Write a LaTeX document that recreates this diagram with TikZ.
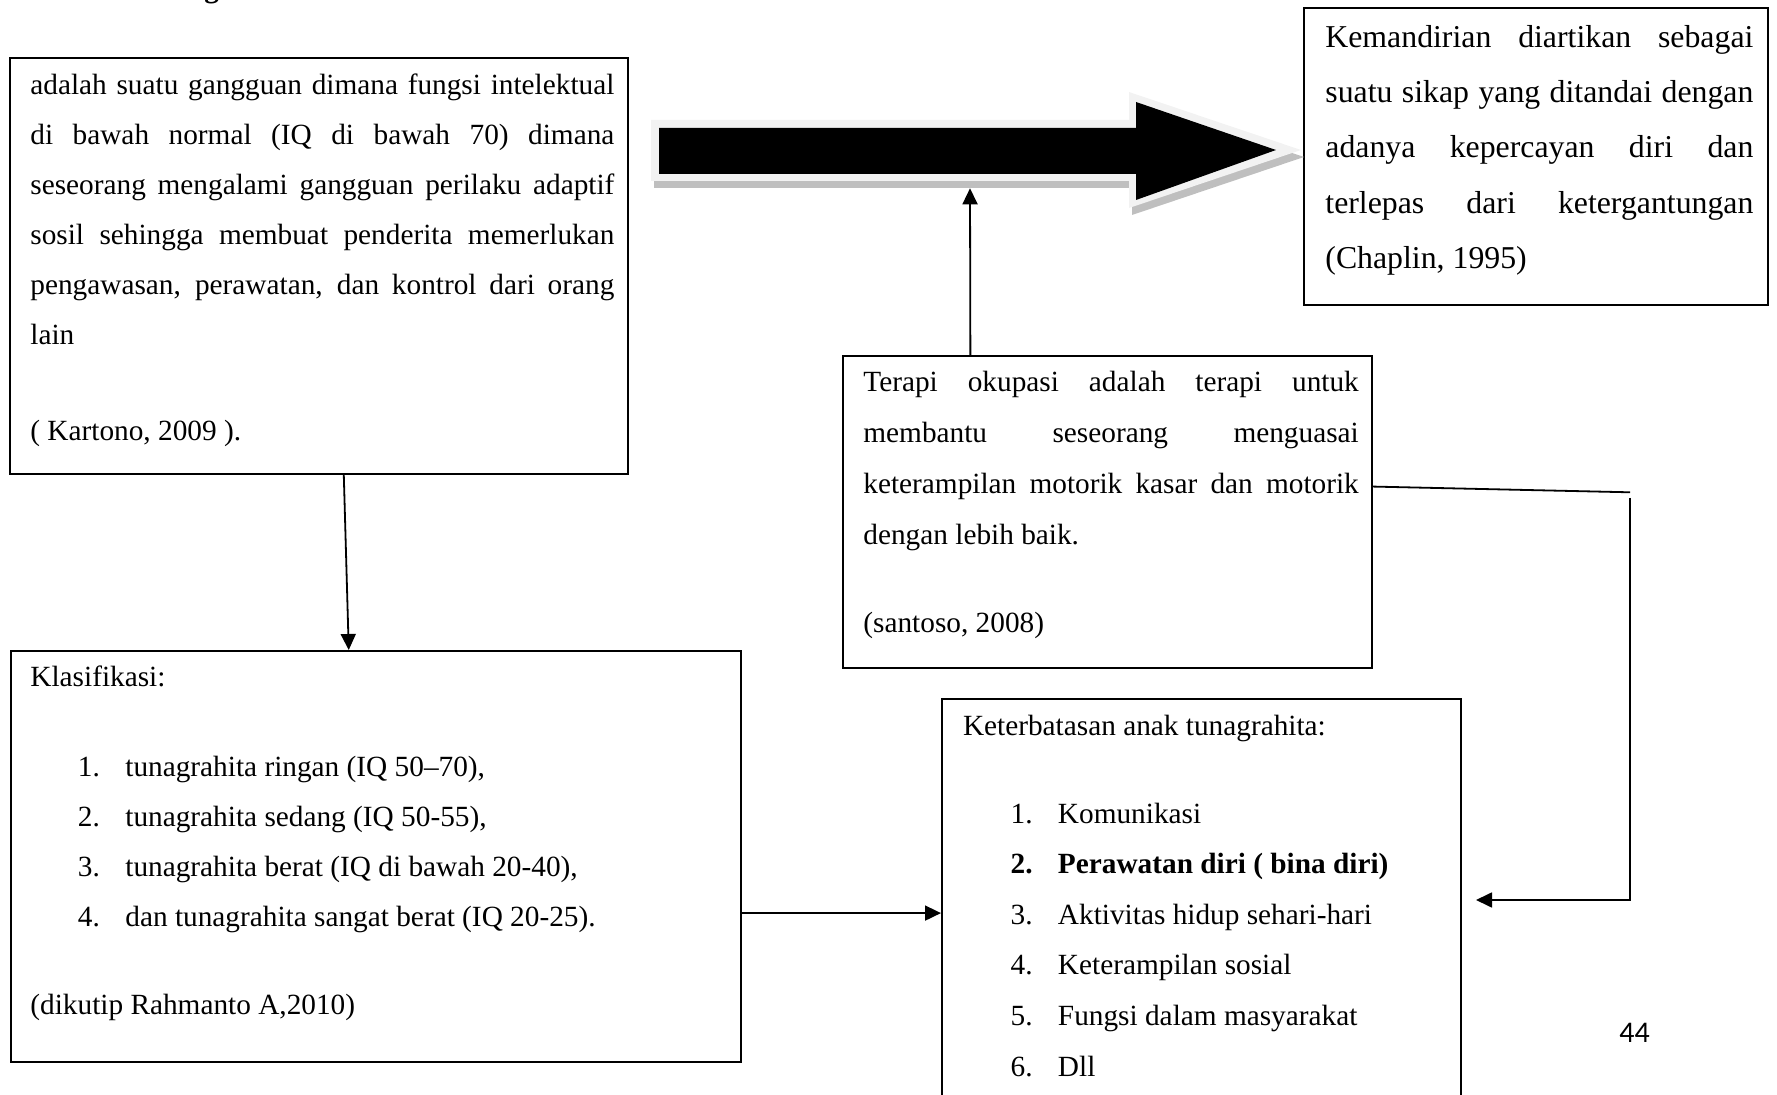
\documentclass[tikz,border=0pt]{standalone}
\usepackage{fontspec}
\setmainfont{Liberation Serif}
\newfontfamily\pagenofont{Carlito}
\usetikzlibrary{calc,arrows.meta}
\definecolor{rimgray}{HTML}{F2F2F2}
\definecolor{shadegray}{HTML}{BFBFBF}
\def\infobox{\node[draw=black,line width=1pt,inner sep=0pt,anchor=north west]}
\def\infotext{\node[anchor=base west,inner sep=0pt]}
\def\drawlink{\draw[line width=0.9pt,-{Triangle[width=7.5pt,length=8pt]}]}
\newcommand{\jline}[1]{\makebox[\linewidth][s]{#1}}
\newcommand{\numitem}[2]{\hspace*{23.8pt}\makebox[23.7pt][l]{#1}#2}

\begin{document}
\begin{tikzpicture}[x=0.5pt,y=-0.5pt]
\useasboundingbox (0,0) rectangle (1777,1095);
\clip (0,0) rectangle (1777,1095);
\node[anchor=base west,inner sep=0pt,font=\bfseries\fontsize{14.65}{25}\selectfont] (headfrag) at (204,-2.4) {g};

\infobox[minimum width=309pt,minimum height=208pt] (defn) at (9,57) {};
\infobox[minimum width=232pt,minimum height=148.5pt] (mandiri) at (1303,7) {};
\infobox[minimum width=264.25pt,minimum height=156pt] (okupasi) at (842,355) {};
\infobox[minimum width=365.15pt,minimum height=205.5pt] (klas) at (9.7,650) {};
\infobox[minimum width=259.5pt,minimum height=210pt] (batas) at (941,698) {};

\infotext (defntxt) at (30,95) {\parbox[t]{292pt}{\fontsize{14.65}{25}\selectfont
\jline{adalah suatu gangguan dimana fungsi intelektual}\\
\jline{di bawah normal (IQ di bawah 70) dimana}\\
\jline{seseorang mengalami gangguan perilaku adaptif}\\
\jline{sosil sehingga membuat penderita memerlukan}\\
\jline{pengawasan, perawatan, dan kontrol dari orang}\\
lain\\[23pt]
( Kartono, 2009 ).}};
\infotext (mandiritxt) at (1325,47.5) {\parbox[t]{214pt}{\fontsize{15.9}{27.6}\selectfont
\jline{Kemandirian diartikan sebagai}\\
\jline{suatu sikap yang ditandai dengan}\\
\jline{adanya kepercayan diri dan}\\
\jline{terlepas dari ketergantungan}\\
(Chaplin, 1995)}};
\infotext (okupasitxt) at (863,391.7) {\parbox[t]{247.7pt}{\fontsize{14.65}{25.47}\selectfont
\jline{Terapi okupasi adalah terapi untuk}\\
\jline{membantu seseorang menguasai}\\
\jline{keterampilan motorik kasar dan motorik}\\
dengan lebih baik.\\[18.6pt]
(santoso, 2008)}};
\infotext (klastxt) at (30,687) {\parbox[t]{350pt}{\fontsize{14.65}{25}\selectfont
Klasifikasi:\\[20pt]
\numitem{1.}{tunagrahita ringan (IQ 50--70),}\\
\numitem{2.}{tunagrahita sedang (IQ 50-55),}\\
\numitem{3.}{tunagrahita berat (IQ di bawah 20-40),}\\
\numitem{4.}{dan tunagrahita sangat berat (IQ 20-25).}\\[19pt]
(dikutip Rahmanto A,2010)}};
\infotext (batastxt) at (962.6,735) {\parbox[t]{240pt}{\fontsize{14.65}{25.3}\selectfont
Keterbatasan anak tunagrahita:\\[18.7pt]
\numitem{1.}{Komunikasi}\\
{\bfseries\numitem{2.}{Perawatan diri ( bina diri)}}\\
\numitem{3.}{Aktivitas hidup sehari-hari}\\
\numitem{4.}{Keterampilan sosial}\\
\numitem{5.}{Fungsi dalam masyarakat}\\
\numitem{6.}{Dll}}};

\fill[shadegray,shift={(3,7)}] (651,120) -- (1129,120) -- (1129,92) -- (1301,150) -- (1129,208) -- (1129,181) -- (651,181) -- cycle;
\fill[rimgray] (651,120) -- (1129,120) -- (1129,92) -- (1301,150) -- (1129,208) -- (1129,181) -- (651,181) -- cycle;
\fill[black] (659,128) -- (1136,128) -- (1136,102) -- (1276,150) -- (1136,200) -- (1136,174) -- (659,174) -- cycle;
\coordinate (arrowfoot) at (970,188.3);

\drawlink ($(defn.south west)!0.54!(defn.south east)$) -- ($(klas.north west)!0.463!(klas.north east)$);
\drawlink ($(okupasi.north west)!0.242!(okupasi.north east)$) -- (arrowfoot);
\coordinate (klasout) at ($(klas.north east)!0.637!(klas.south east)$);
\drawlink (klasout) -- (klasout -| batas.west);
\coordinate (okuout) at ($(okupasi.north east)!0.419!(okupasi.south east)$);
\coordinate (bendtop) at (1630,492.3);
\coordinate (bendmid) at (1630,498);
\coordinate (bendlow) at (1630,900);
\coordinate (backtip) at (1476,900);
\draw[line width=0.9pt] (okuout) -- (bendtop);
\drawlink (bendmid) -- (bendlow) -- (backtip);

\node[anchor=base,inner sep=0pt,font=\pagenofont\fontsize{15}{18}\selectfont] (pageno) at (1634.5,1042) {44};
\end{tikzpicture}
\end{document}
